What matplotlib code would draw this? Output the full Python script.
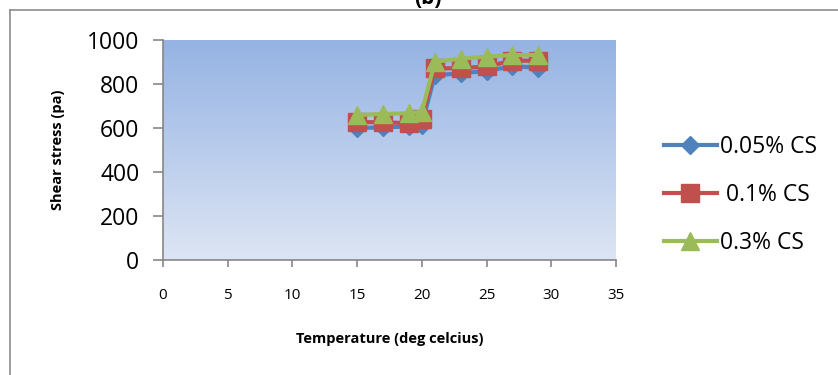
import numpy as np
import matplotlib
matplotlib.use("Agg")
import matplotlib.pyplot as plt
from matplotlib.colors import LinearSegmentedColormap
from matplotlib.lines import Line2D

temperature = [15, 17, 19, 20, 21, 23, 25, 27, 29]
cs_005 = [600, 603, 607, 615, 840, 848, 860, 880, 875]
cs_01 = [627, 626, 622, 642, 871, 872, 880, 906, 906]
cs_03 = [659, 664, 667, 674, 901, 915, 924, 932, 932]
series_labels = ["0.05% CS", " 0.1% CS", "0.3% CS"]
x_ticks = [0, 5, 10, 15, 20, 25, 30, 35]
y_ticks = [0, 200, 400, 600, 800, 1000]

plt.rcParams['font.family'] = ['Open Sans', 'DejaVu Sans']

W, H = 838, 375
fig = plt.figure(figsize=(W / 100, H / 100), dpi=100)
fig.patch.set_facecolor('white')

# outer chart border (partially visible)
fig.add_artist(Line2D([10 / W, 10 / W], [0, 1 - 10 / H], transform=fig.transFigure,
                      color='#8c8c8c', lw=1.2))
fig.add_artist(Line2D([10 / W, 1], [1 - 10 / H, 1 - 10 / H], transform=fig.transFigure,
                      color='#8c8c8c', lw=1.2))
fig.text(428 / W, 1 - 4 / H, '(b)', ha='center', va='baseline', fontsize=15,
         fontweight='bold', color='black')

left, right, top, bottom = 163, 616, 40, 260
ax = fig.add_axes([left / W, 1 - bottom / H, (right - left) / W, (bottom - top) / H])

cmap = LinearSegmentedColormap.from_list('bg', ['#dde5f4', '#95b3e3'])
grad = np.linspace(0, 1, 256).reshape(-1, 1)
ax.imshow(grad, extent=[0, 35, 0, 1000], origin='lower', aspect='auto', cmap=cmap, zorder=0)

ax.plot(temperature, cs_005, color='#4f81bd', lw=3, marker='D', ms=9.5,
        mec='#4f81bd', mfc='#4f81bd', zorder=3, label=series_labels[0])
ax.plot(temperature, cs_01, color='#c0504d', lw=3, marker='s', ms=13,
        mec='#c0504d', mfc='#c0504d', zorder=4, label=series_labels[1])
ax.plot(temperature, cs_03, color='#9bbb59', lw=3, marker='^', ms=13.5,
        mec='#9bbb59', mfc='#9bbb59', zorder=5, label=series_labels[2])

ax.set_xlim(0, 35)
ax.set_ylim(0, 1000)
ax.set_xticks(x_ticks)
ax.set_yticks(y_ticks)
for s in ['top', 'right']:
    ax.spines[s].set_visible(False)
for s in ['left', 'bottom']:
    ax.spines[s].set_color('#868686')
    ax.spines[s].set_linewidth(1.2)
ax.tick_params(axis='y', direction='out', length=7, width=1.2, color='#868686',
               labelsize=16.5, pad=10)
ax.tick_params(axis='x', direction='out', length=5, width=1.2, color='#868686',
               labelsize=11, pad=15)

ax.set_xlabel('Temperature (deg celcius)', fontsize=10.5, fontweight='bold', labelpad=21)
ax.set_ylabel('Shear stress (pa)', fontsize=10.5, fontweight='bold', labelpad=16)

handles, labels = ax.get_legend_handles_labels()
leg = fig.legend(handles, labels, loc='center left', bbox_to_anchor=(664 / W, 1 - 195 / H),
                 frameon=False, fontsize=16.5, handlelength=2.3, handletextpad=0.15,
                 labelspacing=1.05, markerscale=0.95, borderpad=0, borderaxespad=0)

fig.savefig('out.png', dpi=100)
